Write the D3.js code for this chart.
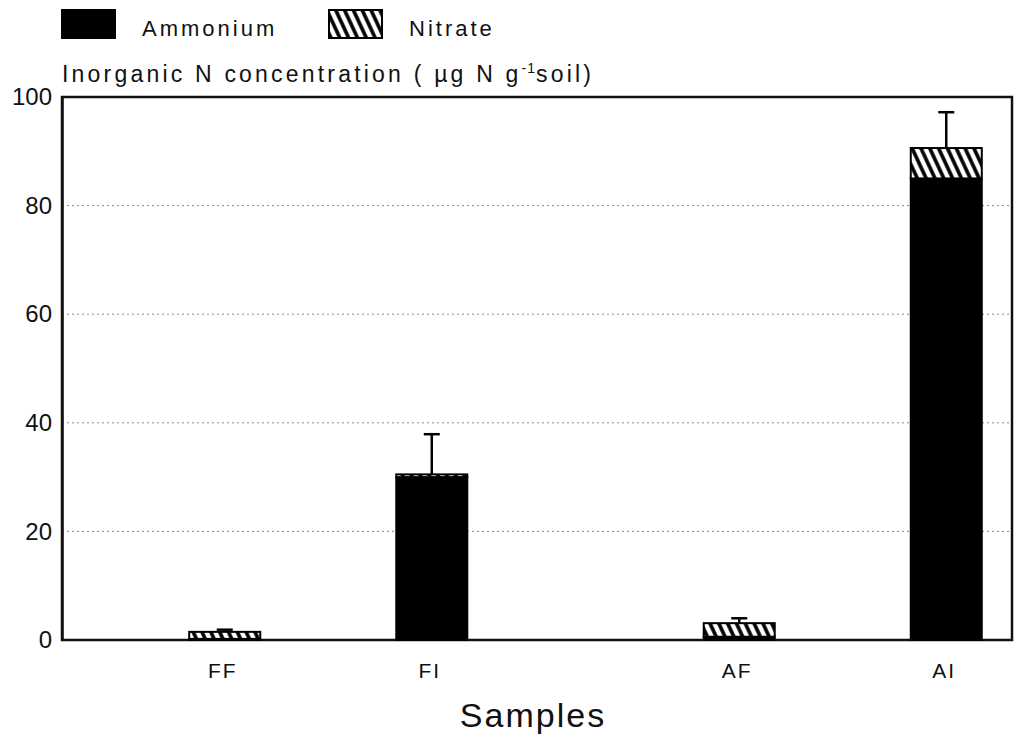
<!DOCTYPE html>
<html>
<head>
<meta charset="utf-8">
<script src="https://cdn.jsdelivr.net/npm/d3@7"></script>
<style>
  body { margin: 0; background: #fff; }
  text { font-family: "Liberation Sans", Arial, sans-serif; fill: #111; }
</style>
</head>
<body>
<svg id="chart" width="1015" height="740"></svg>
<script>
// values
var samples = ["FF", "FI", "AF", "AI"];
var site = ["F", "F", "A", "A"];
var treatment = ["F", "I", "F", "I"];
var ammonium = [0.2, 30.0, 0.6, 85.0];
var nitrate = [1.3, 0.5, 2.5, 5.6];
var errUp = [0.4, 7.4, 0.9, 6.6];
var yTicks = [0, 20, 40, 60, 80, 100];

var svg = d3.select("#chart");
var plotL = 62, plotR = 1012, plotT = 97, plotB = 640;

var y = d3.scaleLinear().domain([0, 100]).range([plotB, plotT]);

// two site groups, two treatments in each
var x0 = d3.scaleBand().domain(["F", "A"]).range([71, 1100]).padding(0);
var x1 = d3.scaleBand().domain(["F", "I"]).range([0, x0.bandwidth()])
  .paddingInner(0.657).paddingOuter(0.571);
var xPos = i => x0(site[i]) + x1(treatment[i]);

var rows = samples.map((s, i) => ({ sample: s, ammonium: ammonium[i], nitrate: nitrate[i], i: i }));
var stacked = d3.stack().keys(["ammonium", "nitrate"])(rows);

// hatch for nitrate
var defs = svg.append("defs");
var pat = defs.append("pattern")
  .attr("id", "hatch")
  .attr("patternUnits", "userSpaceOnUse")
  .attr("width", 8).attr("height", 8)
  .attr("patternTransform", "rotate(-25)");
pat.append("rect").attr("width", 8).attr("height", 8).attr("fill", "#fff");
pat.append("line").attr("x1", 4).attr("x2", 4).attr("y1", 0).attr("y2", 8)
  .attr("stroke", "#000").attr("stroke-width", 3.6);

// grid
svg.append("g").selectAll("line")
  .data(yTicks.filter(d => d > 0 && d < 100))
  .enter().append("line")
  .attr("x1", plotL).attr("x2", plotR)
  .attr("y1", d => y(d)).attr("y2", d => y(d))
  .attr("stroke", "#888").attr("stroke-width", 1)
  .attr("stroke-dasharray", "2,3");

// frame
svg.append("rect")
  .attr("x", plotL).attr("y", plotT)
  .attr("width", plotR - plotL).attr("height", plotB - plotT)
  .attr("fill", "none").attr("stroke", "#111").attr("stroke-width", 2.5);

// y axis labels
var yAxis = svg.append("g")
  .attr("transform", "translate(" + plotL + ",0)")
  .call(d3.axisLeft(y).tickValues(yTicks).tickSize(0).tickPadding(10));
yAxis.select(".domain").attr("stroke", "#111").attr("stroke-width", 2.5);
yAxis.selectAll("text").style("font-size", "24px").attr("fill", "#111")
  .style("font-family", "Liberation Sans, Arial, sans-serif");

// bars
var colors = { ammonium: "#000", nitrate: "url(#hatch)" };
var w = x1.bandwidth();
stacked.forEach(layer => {
  svg.append("g").selectAll("rect")
    .data(layer)
    .enter().append("rect")
    .attr("x", d => xPos(d.data.i))
    .attr("y", d => y(d[1]))
    .attr("width", w)
    .attr("height", d => Math.max(0, y(d[0]) - y(d[1])))
    .attr("fill", colors[layer.key])
    .attr("stroke", "#000")
    .attr("stroke-width", 2);
});

// error bars, upward only
var eb = svg.append("g").attr("stroke", "#000").attr("stroke-width", 2.5);
samples.forEach((s, i) => {
  var cx = xPos(i) + w / 2;
  var tot = ammonium[i] + nitrate[i];
  eb.append("line").attr("x1", cx).attr("x2", cx)
    .attr("y1", y(tot)).attr("y2", y(tot + errUp[i]));
  eb.append("line").attr("x1", cx - 8).attr("x2", cx + 8)
    .attr("y1", y(tot + errUp[i])).attr("y2", y(tot + errUp[i]));
});

// x labels
svg.append("g").selectAll("text")
  .data(samples)
  .enter().append("text")
  .attr("x", (d, i) => xPos(i) + w / 2 - 2)
  .attr("y", 678)
  .attr("text-anchor", "middle")
  .style("font-size", "21px")
  .style("letter-spacing", "2px")
  .text(d => d);

svg.append("text")
  .attr("x", 533).attr("y", 727)
  .attr("text-anchor", "middle")
  .style("font-size", "34px")
  .style("letter-spacing", "2px")
  .text("Samples");

// y title
var ttl = svg.append("text").attr("x", 62).attr("y", 82)
  .style("font-size", "23px").style("letter-spacing", "3.2px");
ttl.append("tspan").text("Inorganic N concentration ( µg N g");
ttl.append("tspan").attr("dy", -9).style("font-size", "14px").style("letter-spacing", "1px").text("-1");
ttl.append("tspan").attr("dy", 9).text("soil)");

// legend
var legend = [
  { label: "Ammonium", fill: "#000", x: 62 },
  { label: "Nitrate", fill: "url(#hatch)", x: 329 }
];
var lg = svg.append("g").selectAll("g").data(legend).enter().append("g");
lg.append("rect")
  .attr("x", d => d.x).attr("y", 10)
  .attr("width", 53).attr("height", 28)
  .attr("fill", d => d.fill).attr("stroke", "#000").attr("stroke-width", 2);
lg.append("text")
  .attr("x", d => d.x + 80).attr("y", 36)
  .style("font-size", "22px")
  .style("letter-spacing", "3px")
  .text(d => d.label);
</script>
</body>
</html>
